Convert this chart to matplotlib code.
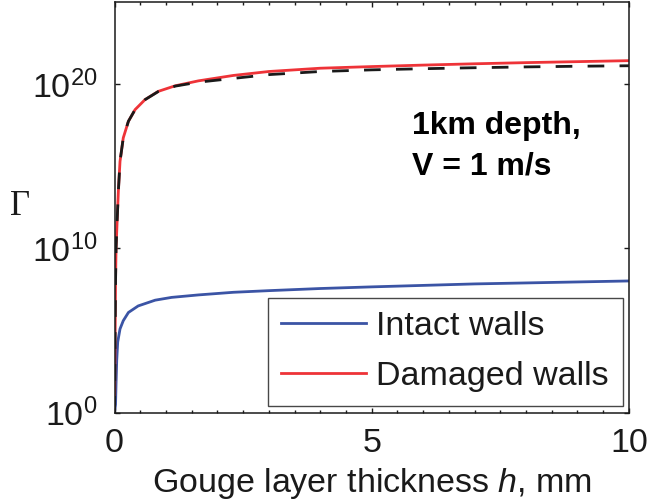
import matplotlib

matplotlib.use("Agg")
import matplotlib.pyplot as plt
import numpy as np
from matplotlib.ticker import FixedLocator, MultipleLocator, NullLocator

plt.rcParams["font.family"] = ["Liberation Sans", "DejaVu Sans"]
plt.rcParams["mathtext.fontset"] = "custom"
plt.rcParams["mathtext.rm"] = "Liberation Sans"
plt.rcParams["mathtext.it"] = "Liberation Sans:italic"

# gouge layer thickness h (mm) and log10(Gamma)
h_intact = [0.0, 0.02, 0.03, 0.043, 0.062, 0.107, 0.17, 0.27, 0.46, 0.79,
            1.11, 1.63, 2.31, 3.0, 4.0, 5.0, 6.0, 7.0, 8.0, 9.0, 10.0]
log_gamma_intact = [0.0, 0.5, 1.8, 3.2, 4.3, 5.1, 5.6, 6.1, 6.5, 6.85,
                    7.02, 7.17, 7.33, 7.43, 7.56, 7.66, 7.75, 7.84, 7.9,
                    7.96, 8.02]

h_damaged = [0.0, 0.01, 0.02, 0.03, 0.05, 0.075, 0.107, 0.17, 0.27, 0.40,
             0.59, 0.85, 1.18, 1.63, 2.31, 3.0, 4.0, 5.0, 6.0, 7.0, 8.0,
             9.0, 10.0]
log_gamma_damaged = [0.0, 4.0, 8.0, 10.0, 11.6, 13.5, 15.3, 16.73, 17.74,
                     18.45, 19.05, 19.56, 19.9, 20.2, 20.53, 20.77, 20.97,
                     21.07, 21.16, 21.24, 21.31, 21.37, 21.43]

# approximation (dashed), same h grid as damaged
log_gamma_approx = [0.0, 4.0, 8.0, 10.0, 11.6, 13.5, 15.3, 16.73, 17.74,
                    18.45, 19.05, 19.55, 19.88, 20.12, 20.35, 20.58, 20.77,
                    20.87, 20.94, 21.0, 21.05, 21.09, 21.12]

fig = plt.figure(figsize=(6.47, 5.03), dpi=100)
ax = fig.add_axes([0.177, 0.1795, 0.795, 0.8165])

ax.plot(h_intact, 10.0 ** np.array(log_gamma_intact), color="#3b54a5",
        lw=2.0, label="Intact walls")
ax.plot(h_damaged, 10.0 ** np.array(log_gamma_damaged), color="#ee3338",
        lw=2.0, label="Damaged walls")
ax.plot(h_damaged, 10.0 ** np.array(log_gamma_approx), color="#1a1a1a",
        lw=2.0, dashes=(6, 5.5))

ax.set_yscale("log")
ax.set_xlim(0, 10)
ax.set_ylim(1, 1e25)
ax.xaxis.set_major_locator(FixedLocator([0, 5, 10]))
ax.xaxis.set_minor_locator(MultipleLocator(0.5))
ax.yaxis.set_major_locator(FixedLocator([1, 1e10, 1e20]))
ax.yaxis.set_minor_locator(NullLocator())
ax.set_yticklabels([r"$10^{0}$", r"$10^{10}$", r"$10^{20}$"])

ax.tick_params(which="both", direction="in", top=True, right=True,
               width=1.0, labelsize=24.5, colors="#1a1a1a")
ax.tick_params(which="major", length=3.8)
ax.tick_params(which="minor", length=2.2)
ax.tick_params(axis="x", pad=11)
ax.tick_params(axis="y", pad=12)
for spine in ax.spines.values():
    spine.set_linewidth(1.1)
    spine.set_color("#1a1a1a")

ax.set_xlabel(r"Gouge layer thickness $\mathit{h}$, mm", fontsize=24.5,
              color="#1a1a1a")
ax.xaxis.set_label_coords(0.5, -0.1924)
ax.xaxis.label.set_verticalalignment("baseline")

ax.set_ylabel("\u0393", fontsize=25, family="Liberation Serif", rotation=0,
              color="#1a1a1a")
ax.yaxis.set_label_coords(-0.184, 0.502)
ax.yaxis.label.set_verticalalignment("center")
ax.yaxis.label.set_horizontalalignment("center")

ax.text(0.578, 0.678, "1km depth,", transform=ax.transAxes, fontsize=23,
        fontweight="bold", va="baseline", ha="left")
ax.text(0.578, 0.579, "V = 1 m/s", transform=ax.transAxes, fontsize=23,
        fontweight="bold", va="baseline", ha="left")

leg = ax.legend(loc="lower right", bbox_to_anchor=(0.988, 0.017),
                fontsize=24.5, frameon=True, fancybox=False, borderpad=0.4,
                handlelength=2.5, handletextpad=0.3, labelspacing=0.55,
                borderaxespad=0)
leg.get_frame().set_edgecolor("#1a1a1a")
leg.get_frame().set_linewidth(1.0)
for t in leg.get_texts():
    t.set_color("#1a1a1a")

fig.savefig("out.png", dpi=100)
